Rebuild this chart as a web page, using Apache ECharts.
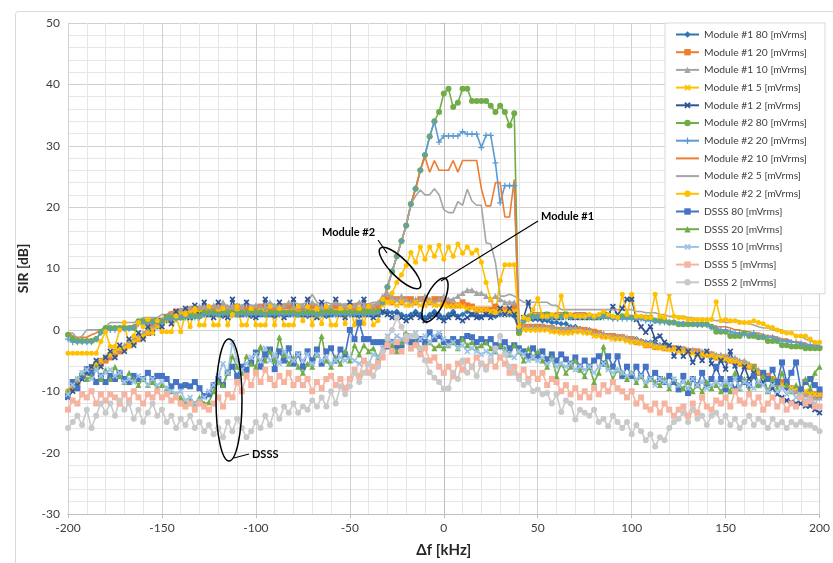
<!DOCTYPE html>
<html><head><meta charset="utf-8">
<script src="https://cdn.jsdelivr.net/npm/echarts@6/dist/echarts.min.js"></script>
<style>html,body{margin:0;padding:0;background:#fff}#chart{width:833px;height:563px}</style>
</head><body><div id="chart"></div>
<script>
// Frequency offset grid: -200 .. 200 kHz in 2.5 kHz steps (161 points)
const freqKHz = Array.from({length: 161}, (_, i) => -200 + 2.5 * i);

// SIR [dB] per series, one value per frequency point
const m1_80 = [
-10,-9.5,-8.5,-7.5,-6.5,-6,-5.5,-5,-4.5,-4,
-3.5,-3.5,-3,-2.5,-2,-1.5,-1,-0.5,0,0.5,
1,1.5,1.8,2,2.2,2.2,2.5,2.5,2.5,2.5,
2.5,2.8,2.5,2.2,2.5,2.5,2.8,2.5,2.5,2.2,
2.2,2.5,2.5,2.5,2.2,2.5,2.8,2.5,2.5,2.5,
2.5,2.2,2.5,2.5,2.5,2.2,2.5,2.5,2.8,2.5,
2.5,2.5,2.2,2.5,2.5,2.2,2.5,2.8,3,2.8,
3,2.5,2.2,2.5,3,2.5,2,2.5,3,2.5,
2,2.5,3,2.2,2.5,3,2.5,2.5,2.2,2.5,
2.5,2.2,2.5,2.8,2.5,2.2,0,1.5,1.7,1.7,
1.7,1.5,1.5,1.2,1.2,1,1,0.5,0.5,0.2,
0,0,-0.5,-0.5,-1,-1,-1,-1.2,-1.2,-1.5,
-1.5,-1.5,-1.8,-2,-2,-2.2,-2.5,-2.5,-2.8,-3,
-3,-3.2,-3.5,-3.5,-3.8,-4,-4,-4.5,-4.5,-4.8,
-5,-5,-5.2,-5.5,-5.8,-6,-6.5,-7,-7.5,-8,
-8.5,-8.5,-9,-9.5,-9.5,-10,-10,-10.5,-10.5,-11,
-11];
const m1_20 = [
-10.5,-9.5,-8.5,-7.5,-7,-6.5,-6,-5.5,-5,-4.5,
-4,-3.5,-3,-2.5,-2,-1.5,-1,-0.5,0.5,1,
1.5,2,2.5,3,3,3,3.3,3.3,3.3,3.3,
3.3,3.3,3.8,3.3,3.3,3.3,3.8,3.3,3.3,3.3,
3.3,3.8,3.3,3.3,3.3,3.3,3.8,3.8,3.3,3.3,
3.3,3.3,3.8,3.3,3.3,3.3,3.3,3.8,3.3,3.3,
3.3,3.8,3.3,3.3,3.8,3.3,3.8,4.5,5,4.5,
5,4.5,5,5,4.5,5,5,4.5,5,5,
4.5,4.5,4,4,4.5,4,3.8,3.3,3.3,3.3,
3.3,3.8,3.3,3.3,3.3,3.8,0,0.5,0.5,0.5,
0.5,0.5,0.3,0.3,0,0,0,0,0,0,
0,-0.3,-0.3,-0.5,-1,-1,-1,-1.2,-1.2,-1.5,
-1.5,-2,-2,-2.5,-2.5,-2.8,-2.8,-3,-3,-3,
-3.2,-3.2,-3.5,-3.5,-3.5,-4,-4,-4,-4.5,-4.5,
-4.5,-5,-5,-5.5,-5.5,-6,-6,-7,-7.5,-7.5,
-8,-8.5,-8.5,-9,-9.5,-10,-10,-10.5,-10.5,-10.5,
-10.5];
const m1_10 = [
-10,-9,-8,-7.5,-7,-6.5,-5.5,-5,-4.5,-4,
-3.5,-3,-2.5,-2,-1.5,-1,-0.5,0,0.5,1,
1.5,2,2.5,3,3.3,3.5,3.5,3.8,3.8,3.8,
3.8,4,3.8,4.5,3.8,3.8,4,3.8,4.5,3.8,
4,3.8,3.8,4.5,4,3.8,4,4.5,3.8,3.8,
4,3.8,4.5,4,3.8,4,3.8,4.5,4,4,
3.8,4,4.5,4,3.8,4,4.5,5.5,6,5.5,
5,5.5,5,4.5,5,5,5.5,5,4.5,5,
5.5,5,5,5.5,6,6.5,6.5,6,6,5.5,
5,5.5,5,4.5,4.5,4.5,0.5,0.5,0.5,0.5,
0.5,0.5,0.5,0.5,0.3,0.3,0.3,0.3,0.3,0,
0,0,-0.5,-0.5,-0.5,-1,-1,-1,-1,-1.2,
-1.5,-1.5,-2,-2,-2,-2.5,-2.5,-2.8,-2.8,-3,
-3,-3,-3.2,-3.2,-3.5,-3.5,-3.5,-3.8,-4,-4,
-4.2,-4.5,-4.5,-5,-5,-5.5,-6,-6.5,-7,-7.5,
-8,-8.5,-9,-9,-9.5,-10,-10,-10.5,-11,-11,
-11];
const m1_5 = [
-10,-9,-8,-7.5,-7,-6,-5.5,-5,-4.5,-4,
-3.5,-3,-3,-2.5,-2,-1.5,-1,-0.5,0,0.5,
1,1.5,2,2.5,2.5,2.8,2.8,2.8,2.8,2.8,
2.8,2.8,3,2.8,2.8,2.8,3,2.8,2.8,2.8,
2.8,3,2.8,2.8,2.8,3,2.8,2.8,3,2.8,
2.8,2.8,3,2.8,2.8,2.8,3,2.8,2.8,3,
2.8,2.8,3,2.8,3,2.8,3,4,4.5,4.5,
4,4.5,4,4,4.5,4,4,4.5,4,4,
4,3.8,3.8,4,3.8,3.5,3.5,3.3,3.3,3.3,
3,3,3.3,3,3,3,-0.5,0,0,0,
0,0,0,-0.3,-0.3,-0.5,-0.5,-0.5,-0.3,-0.3,
-0.5,-0.5,-1,-1,-1.2,-1.2,-1.5,-1.5,-1.5,-1.8,
-2,-2,-2.2,-2.5,-2.5,-2.8,-3,-3,-3.2,-3.2,
-3.5,-3.5,-3.5,-3.8,-4,-4,-4,-4.2,-4.5,-4.5,
-4.8,-5,-5.2,-5.5,-5.8,-6,-6.5,-7,-7.5,-8,
-8,-8.5,-9,-9,-9.5,-9.5,-10,-10,-10.5,-10.5,
-10.5];
const m1_2 = [
-11,-10,-9,-8,-7,-6,-5,-6,-4.5,-3.5,
-4.5,-2.5,-3.5,-1.5,-2.5,-0.5,-1.5,0.5,-0.5,1.5,
0.5,2,1,3,2,3.5,2,4,2.5,4.5,
2.5,2,4.5,2.5,2,5,2.5,2.5,4.5,2.5,
2,2.5,5,2.5,2.5,4.5,2,2.5,5,2.5,
2.5,5,2.5,2,4.5,2.5,2.5,5,2.5,2,
4.5,2.5,2.5,5,2.5,2,2.5,3,2.5,2,
2.5,2,1.5,2,2.5,2,1.5,2,2.5,2,
1.5,2,2.5,2,1.5,2,2.5,2,2,2.5,
2,2.5,3.5,2.5,3.5,2.5,0,2,4.5,2,
2,2,2.5,2,2,2,2.5,2,2,2,
2,2,2,2,2.2,2.5,3.8,2.5,3.5,5,
5,1.7,0.5,-0.4,0.5,-1.5,-1,-2,-2.5,-4.3,
-3,-4.3,-3.5,-5.3,-4,-5,-3.5,-5.5,-6.4,-5,
-6.4,-3.5,-5.9,-8,-6,-8,-7,-9,-8.5,-10,
-9.5,-10.5,-11,-11.5,-11.8,-12,-12,-12.4,-12.4,-13,
-13.5];
const m2_80 = [
-0.8,-1.5,-1.8,-1.8,-1.8,-1.8,-1.5,-0.3,0.3,0.3,
0.3,0.3,0.3,0.3,0.3,1.4,1.4,1.4,1.4,1.4,
1.4,2,2,2,2,2.2,2.2,2.2,2.2,2.8,
2.8,2.8,2.5,2.8,2.8,2.8,2.5,2.8,2.8,2.8,
2.8,2.8,2.5,2.8,2.8,3,2.8,2.8,2.8,2.5,
2.8,2.8,2.8,2.5,2.8,2.8,3,2.8,2.8,2.8,
2.8,2.8,3,3,3,2.8,3,4.5,7,9.5,
12,14.5,17,20.5,23,26,28.5,31.5,34,35.5,
38.5,39.3,36.3,37,39.3,39.3,37.3,37.3,37.3,37.3,
36.5,35.5,36.5,35.5,33.3,35.3,-0.5,1.5,2,2.2,
2.2,2.2,2.5,2.2,2.2,2.2,2.5,2.2,2.2,2.2,
2.2,2.2,2,2.2,2.2,2.2,2,2,2.2,2.2,
2,2,2,2,2,1.5,1.5,1.5,1.2,1.2,
0.9,0.9,0.9,0.9,0.9,0.9,0.9,0.5,-0.3,-0.3,
-0.3,-1,-1,-1,-0.5,-1,-1,-1.2,-1.2,-1.8,
-1.8,-1.8,-2.5,-2.5,-2.7,-2.7,-2.7,-3,-3,-3,
-3];
const m2_20 = [
-1.5,-2,-2,-2,-2,-2,-1.5,-0.5,0,0,
0,0.2,0.2,0.2,0.5,1,1,1.2,1.2,1.2,
1.2,1.7,1.7,1.7,2,2,2,2,2,2.5,
2.5,2.5,2.5,2.5,2.5,2.5,2.5,2.5,2.5,2.5,
2.5,2.5,2.5,2.5,2.5,2.5,2.5,2.5,2.5,2.5,
2.5,2.5,2.5,2.5,2.5,2.5,2.5,2.5,2.5,2.5,
2.5,2.5,2.5,2.5,2.5,2.5,2.8,4.5,7,9.5,
12,14.5,17,20.5,23,26,28.5,31.5,33.9,30.6,
31.6,31.6,31.6,31.6,32.3,31.9,31.9,31.9,29.7,31.7,
31.7,27.2,20.7,23.5,23.5,23.5,0,1.5,1.8,2,
2,2,2,2,2,2,2,2,2,2,
2,2,2,2,2,2,1.8,1.8,1.8,1.8,
1.8,1.8,1.8,1.5,1.5,1.5,1.2,1.2,1.2,1.2,
1,1,1,1,0.8,0.8,0.8,0.5,0.3,0,
0,-0.3,-0.5,-0.5,-0.8,-0.8,-0.5,-1,-1,-1.2,
-1.2,-1.5,-1.8,-1.8,-2,-2,-2.2,-2.5,-2.5,-2.5,
-2.7];
const m2_10 = [
-0.5,-1,-1.2,-1.2,-1.2,-0.8,-0.5,0,0.3,0.3,
0.3,0.5,0.5,0.5,0.8,1,1.4,1.4,1.7,1.7,
1.7,2,2.2,2.5,2.5,2.5,2.8,2.8,2.8,3,
3,3,3.3,3,3,3.3,3,3,3.3,3,
3,3.3,3,3,3.3,3.3,3,3,3.3,3,
3,3.3,3,3.3,3,3,3.3,3,3,3.3,
3,3.3,3,3.3,3,3.3,3.3,4.5,7,9.5,
12,14.5,17,20.5,23,26,28.2,25.7,27.6,26,
26,26,27.6,25.7,27.6,27.6,27.6,27.6,23,20.2,
20.2,24,24,18.4,18.4,24.5,0.5,2,2.5,2.8,
2.8,2.8,2.8,2.5,2.8,2.8,2.8,2.5,2.8,2.8,
2.8,2.5,2.5,2.5,2.5,2.2,2.2,2.2,2.2,2.2,
2,2,2,1.8,1.8,1.5,1.5,1.5,1.2,1.2,
1.2,1.2,1.2,1,1,1,0.8,0.8,0.5,0.5,
0.5,0.3,0,0,-0.3,-0.3,-0.5,-0.5,-0.8,-1,
-1,-1.2,-1.5,-1.5,-1.8,-2,-2,-2.2,-2.5,-2.5,
-2.5];
const m2_5 = [
-0.5,-0.5,-1.5,-1,0,0,0,0,0.5,1.2,
1.2,1.2,1.2,1.2,1.2,1.5,2,2,2,2,
2.5,2.5,3,3,3.3,3.3,3.8,3.8,3.8,3.8,
3.8,3.8,4,4,3.8,4,4,4,4.2,4,
4,4,4.2,4.2,4,4,4.2,4.2,4.5,4.2,
4.2,4.5,5.8,4.5,4.2,4.5,4.2,4.5,4.2,4.2,
4.2,4.2,4.5,4.2,4.2,4.5,4.5,4.5,7,9.5,
12,14.5,17,20.5,21.8,22.8,22,22,23,22,
19.6,19.1,19.1,20.9,20.3,22.9,21,20.3,20.3,14.2,
14,11,5.5,5.5,5.8,5.5,5,4.5,4.5,4.5,
4.5,4.5,4.5,4,4,3.3,3.3,3.3,3.3,3.3,
3.3,3.3,3.3,3.3,3.3,3.3,3.3,3.3,3.3,3.3,
3.3,3,3,2.8,2.8,2.8,2.5,2.5,2.2,2.2,
2.2,2.2,2,2,1.7,1.7,1.7,1.7,1.5,1.5,
1.2,1.2,1.5,1.5,1.2,1,0.8,0.5,0.3,0.3,
0,0,0,-0.5,-0.5,-1,-1,-1.5,-1.8,-2,
-2];
const m2_2 = [
-3.8,-3.8,-3.8,-3.8,-3.8,-3.8,-3.8,-1.9,-0.3,-2.7,
-2.7,0,1.2,-2.7,-1,1.2,0.5,1.7,-0.5,1.5,
-0.3,-0.3,-0.3,2.2,-0.3,2.5,0.5,3.5,0.8,0.8,
3.8,0.8,0.8,3.5,0.8,2.5,3.8,0.8,0.8,3.5,
0.8,0.8,0.8,3.8,0.8,3.5,0.8,0.8,0.8,3.8,
1.5,3.8,0.8,3.5,1,3.8,0.8,0.8,3.5,1,
3.8,0.8,3.5,1,3.8,0.8,1.5,5,4.5,6,
7.7,9,10.5,12.6,11,13.5,11.5,13.5,12,13.8,
11.5,13.5,12,14,12.5,13.5,12.5,13,11,7.7,
5,2.8,8,10.6,10.6,10.6,0.5,2,1.7,3.3,
5.1,2.2,2.2,2.5,2.2,5.5,2.2,2.5,2.2,2.2,
2.2,2.5,2.2,2.5,3,2.5,2.2,2,5.8,2.5,
5.8,2.2,2.2,2,2,5.8,2.2,2,5.8,2.2,
2,2,1.7,1.7,1.7,1.7,1.7,1.7,4.6,1.5,
1.7,1.5,1.5,1.2,1.2,1.2,1.5,1.2,1,0.5,
0.4,0,-0.3,-0.5,-0.5,-1,-1,-1,-1.5,-2,
-2];
const dsss_80 = [
-10.8,-8.5,-9.5,-7.5,-6.4,-7,-8.5,-7.5,-8.5,-7.5,
-8,-7,-8,-8.5,-7.5,-8,-8,-7,-8,-7.5,
-7.5,-8,-9.2,-8.5,-9.2,-9,-9.2,-8.5,-9.5,-10.8,
-10.5,-9,-8,-9,-7,-6,-7.5,-6,-6.5,-5.3,
-3.7,-6,-4,-3.2,-6.4,-3.5,-5,-3,-5.5,-4,
-6,-3.5,-5,-3.2,-5.5,-3.5,-3,-5,-3.2,-4,
0,-1.5,1.2,-1.5,-1.5,-2,-2,-2,-2.7,-2,
-2.7,-2.5,-1,-2,-2,-1.5,-2,-0.4,-1.5,-1,
-2,-2,-1.5,-2,-1.5,-1,-1.2,-2,-1.5,-2,
-1.5,-2.5,-2.7,-2,-3,-2.5,-3,-3.5,-4.3,-3,
-4.3,-3.5,-4.8,-4,-5,-4,-4.8,-5.5,-4.5,-6,
-5,-6,-5,-4.3,-5.5,-4.3,-6,-4.3,-7.5,-6,
-7.5,-6,-7.5,-6,-8,-7,-8,-8.5,-7.5,-8.5,
-9.7,-7.5,-10.3,-8,-9,-7,-9,-8,-6,-8,
-9.7,-8,-9.7,-8,-8.5,-9,-7.5,-9,-7,-8,
-6.5,-8.5,-5.3,-8.5,-7,-5.3,-9.7,-8.5,-8,-9,
-9.7];
const dsss_20 = [
-10,-9,-8,-7,-8,-7.5,-6,-8,-6.5,-8,
-6,-7.5,-8.5,-7,-8,-9,-8,-9,-8.5,-9.5,
-9,-9.5,-10,-10.5,-11,-12,-11.5,-12,-11,-12,
-11.8,-10,-8.5,-9,-7,-4.3,-6,-7,-4.3,-5.5,
-6,-2.7,-5,-3.5,-5,-1.2,-4,-5.5,-4.5,-6,
-7,-5.5,-6,-4,-1,-5,-6,-4.5,-5.5,-3.5,
-5,-2.5,-4,-2.5,-3.5,-3,-4.5,-3,-2,-2.5,
-3.5,-2,-0.5,-3,-2,-3.5,-2.5,-2,-3,-2.5,
-3,-2.5,-2,-3,-1.5,-2.5,-2,-3,-2.5,-2,
-3,-3.5,-2.5,-3,-4,-2.5,-3.5,-5,-3,-4.5,
-3.5,-5,-6,-4.5,-7.5,-5.5,-7,-6,-5,-6.5,
-7.5,-6,-8.5,-7,-2.7,-6,-8,-6.5,-7,-8,
-7,-8.5,-7.5,-9,-8,-8.5,-9,-8,-9.5,-8,
-9,-9.5,-8.5,-10,-9,-10,-8.5,-9.5,-9,-10,
-9,-10,-7,-9.5,-8,-10,-6,-9,-7.5,-10,
-8,-9.5,-7,-9,-10,-9,-10.5,-8,-9.5,-7,
-6];
const dsss_10 = [
-10.5,-9,-8,-7,-6.5,-8,-6.5,-7.5,-7,-6.5,
-7.5,-7,-8.5,-8,-8.5,-7.5,-8,-9,-8,-9,
-8.5,-9.5,-10,-10.5,-10,-11.5,-11,-12,-11.5,-11,
-10,-9,-7.5,-5.5,-7,-2,-5,-6.5,-5.5,-4.5,
-4,-5,-3,-5,-4,-5.5,-3.5,-4.5,-5,-4,
-5,-4,-5.5,-4,-5,-4.5,-5.5,-5,-4.5,-5,
-4.5,-5,-5.5,-5,-5.5,-4,-4.5,-3,-1,-2,
-1,-1.5,-2,-1,-0.5,-1.5,-1,-2,-1,-0.5,
-1.5,-2.5,-2,-3,-2.5,-3.5,-3,-3.5,-4,-3.5,
-4,-3.5,-4.5,-3.5,-4,-4.5,-3.5,-4,-5,-4.5,
-5,-4.5,-5.5,-5,-6,-5.5,-6,-5.5,-6.5,-6,
-6.5,-6,-7,-6,-5.5,-6.5,-7,-6.5,-7,-7.5,
-7,-8,-7.5,-8.5,-8,-9,-8,-8.5,-9,-8,
-9,-8.5,-9.5,-8,-9,-8.5,-9.5,-9,-8.5,-9,
-8.5,-9,-8,-9.5,-8.5,-9,-9.5,-8.5,-9,-10,
-9,-10,-9.5,-10.5,-10,-11,-10.5,-11.5,-11,-12,
-12.5];
const dsss_5 = [
-13,-11.5,-12,-10.5,-11,-10,-12,-10.5,-11.5,-10.5,
-11,-12,-10.5,-11.5,-10,-11,-12,-10.5,-11,-10,
-11,-10.5,-11.5,-11,-12,-12.5,-12,-13,-12,-12.5,
-13,-12,-11,-12.5,-10.5,-11,-8.5,-10,-7.5,-9,
-7,-8.5,-6.5,-8,-9,-7.5,-8.5,-7,-9,-8,
-9,-8,-10,-8.5,-9.5,-8,-7.5,-9,-8,-9.5,
-8,-6.5,-7.5,-5,-7,-6,-5.5,-4.5,-2.5,-3.5,
-2,-3.5,-1.5,-3,-2.5,-4,-3,-5,-4.5,-6,
-7,-6,-7.5,-5.5,-6.5,-5,-6,-4.5,-5.5,-6,
-5,-6,-4.5,-5.5,-7,-6,-7.5,-6.5,-8,-7,
-8,-7,-9,-8,-8.5,-10,-9,-10.5,-9.5,-11,
-10,-11,-9.5,-10.5,-9,-10,-8.5,-9.5,-10,-11,
-10,-12,-11,-12.5,-13,-12,-13.5,-12,-13,-14,
-13,-12.5,-14,-12,-13.5,-11,-12.5,-13,-11.5,-12,
-11,-12.5,-10,-11.5,-12,-10.5,-12,-11,-13,-12,
-11,-12.5,-11.5,-13,-12,-12.5,-11,-12,-11.5,-12.5,
-12.5];
const dsss_2 = [
-16,-15,-14,-15.5,-13,-16,-14,-12,-13.5,-12,
-14,-11.5,-13,-12,-14.5,-13,-15,-13.5,-12,-14,
-13,-15,-14,-16,-14.5,-15.5,-14,-16,-15,-16.5,
-15.5,-17,-16,-17.5,-15,-16.5,-14.5,-16,-17.5,-16.5,
-15,-16,-14,-15.5,-13,-14.5,-12.5,-13.5,-12,-13.5,
-12.5,-13,-11.5,-12.5,-11,-12.5,-10,-12,-9.2,-10.5,
-9.2,-7,-8.5,-7,-5.6,-7.5,-6,-3.5,-1.5,0,
2,0.5,-1,-1,-1,-3,-5,-6.9,-7.8,-8.5,
-9.6,-9.5,-7,-8,-5,-7,-6,-7.5,-5.5,-6.5,
-5,-3,-1,-4,-6,-7,-8,-9,-8.5,-10,
-9.7,-10.5,-10.3,-12,-10.5,-13.4,-11.5,-12,-14.6,-13,
-13.5,-14,-13,-15,-14.5,-15.7,-14,-15,-16,-15,
-17,-15.5,-16.5,-18,-17,-19,-17.5,-18,-16,-15,
-14.5,-13.5,-15,-13,-14.5,-14,-15.5,-14,-13.5,-15,
-14,-15.5,-14.5,-16,-15,-14,-15.5,-14.5,-15,-16,
-14.5,-15.5,-15,-16,-15,-15.5,-15,-15.5,-15.5,-16,
-16.5];

const seriesNames = [
  'Module #1 80 [mVrms]', 'Module #1 20 [mVrms]', 'Module #1 10 [mVrms]', 'Module #1 5 [mVrms]', 'Module #1 2 [mVrms]',
  'Module #2 80 [mVrms]', 'Module #2 20 [mVrms]', 'Module #2 10 [mVrms]', 'Module #2 5 [mVrms]', 'Module #2 2 [mVrms]',
  'DSSS 80 [mVrms]', 'DSSS 20 [mVrms]', 'DSSS 10 [mVrms]', 'DSSS 5 [mVrms]', 'DSSS 2 [mVrms]'
];
const seriesValues = [m1_80, m1_20, m1_10, m1_5, m1_2, m2_80, m2_20, m2_10, m2_5, m2_2,
                      dsss_80, dsss_20, dsss_10, dsss_5, dsss_2];

seriesValues.forEach((v, k) => {
  if (v.length !== freqKHz.length) throw new Error(seriesNames[k] + ' has ' + v.length + ' points');
});

// marker shapes
const X_MARK = 'path://M2,0L5,3L8,0L10,2L7,5L10,8L8,10L5,7L2,10L0,8L3,5L0,2Z';
const PLUS_MARK = 'path://M4,0H6V4H10V6H6V10H4V6H0V4H4Z';
const DASH_MARK = 'path://M0,4H10V6.5H0Z';

const styles = [
  {color: '#2E75B6', symbol: 'diamond', size: 6},
  {color: '#ED7D31', symbol: 'rect', size: 6},
  {color: '#A5A5A5', symbol: 'triangle', size: 6},
  {color: '#FFC000', symbol: X_MARK, size: 6},
  {color: '#2F5597', symbol: X_MARK, size: 6},
  {color: '#70AD47', symbol: 'circle', size: 6},
  {color: '#5B9BD5', symbol: PLUS_MARK, size: 6},
  {color: '#ED7D31', symbol: 'none', size: 0},
  {color: '#A5A5A5', symbol: 'none', size: 0},
  {color: '#FFC000', symbol: 'circle', size: 5},
  {color: '#4472C4', symbol: 'rect', size: 6},
  {color: '#70AD47', symbol: 'triangle', size: 6},
  {color: '#9DC3E6', symbol: X_MARK, size: 6},
  {color: '#F6B4A0', symbol: DASH_MARK, size: 6},
  {color: '#C9C9C9', symbol: 'circle', size: 6}
];

const series = seriesValues.map((vals, k) => ({
  name: seriesNames[k],
  type: 'line',
  data: freqKHz.map((f, i) => [f, vals[i]]),
  symbol: styles[k].symbol,
  symbolSize: styles[k].size,
  showSymbol: styles[k].symbol !== 'none',
  lineStyle: {color: styles[k].color, width: 1.6},
  itemStyle: {color: styles[k].color},
  emphasis: {disabled: true},
  animation: false
}));

// legend entries: plain-line series get no marker in their key
const legendData = seriesNames.map((name, k) =>
  styles[k].symbol === 'none' ? {name: name, itemStyle: {opacity: 0}} : {name: name});

const FONT = 'Lato, "Liberation Sans", sans-serif';
const chart = echarts.init(document.getElementById('chart'), null, {renderer: 'canvas'});
chart.setOption({
  animation: false,
  backgroundColor: '#ffffff',
  textStyle: {fontFamily: FONT},
  grid: {left: 68, right: 11, top: 23, bottom: 48},
  xAxis: {
    type: 'value', min: -200, max: 200, interval: 50,
    name: 'Δf [kHz]', nameLocation: 'middle', nameGap: 29,
    nameTextStyle: {fontFamily: FONT, fontSize: 15, fontWeight: 'bold', color: '#262626'},
    axisLine: {show: true, onZero: false, lineStyle: {color: '#bfbfbf'}},
    axisTick: {show: true, length: 4, lineStyle: {color: '#bfbfbf'}},
    axisLabel: {fontFamily: FONT, fontSize: 12, color: '#404040', margin: 8},
    splitLine: {show: true, lineStyle: {color: '#d0d0d0', width: 1}},
    minorTick: {show: false, splitNumber: 5},
    minorSplitLine: {show: true, lineStyle: {color: '#e6e6e6', width: 1}}
  },
  yAxis: {
    type: 'value', min: -30, max: 50, interval: 10,
    name: 'SIR [dB]', nameLocation: 'middle', nameGap: 35,
    nameTextStyle: {fontFamily: FONT, fontSize: 14, fontWeight: 'bold', color: '#262626'},
    axisLine: {show: true, lineStyle: {color: '#bfbfbf'}},
    axisTick: {show: true, length: 4, lineStyle: {color: '#bfbfbf'}},
    axisLabel: {fontFamily: FONT, fontSize: 12, color: '#404040', margin: 8},
    splitLine: {show: true, lineStyle: {color: '#d0d0d0', width: 1}},
    minorTick: {show: false, splitNumber: 5},
    minorSplitLine: {show: true, lineStyle: {color: '#e6e6e6', width: 1}}
  },
  legend: {
    orient: 'vertical', left: 665, top: 23,
    padding: [5, 18, 5, 10],
    itemWidth: 23, itemHeight: 8, itemGap: 4.7,
    backgroundColor: '#ffffff', borderColor: '#d9d9d9', borderWidth: 1,
    textStyle: {fontFamily: FONT, fontSize: 10.3, color: '#404040', lineHeight: 13},
    selectedMode: false,
    data: legendData
  },
  graphic: [
    {type: 'rect', silent: true, z: -10,
     shape: {x: 15.5, y: 11.5, width: 900, height: 700, r: 3},
     style: {fill: 'none', stroke: '#d9d9d9', lineWidth: 1}},
    // Module #2 group marker
    {type: 'ellipse', x: 400, y: 268, rotation: -Math.PI / 4, silent: true, z: 100,
     shape: {cx: 0, cy: 0, rx: 28, ry: 9},
     style: {fill: 'none', stroke: '#000', lineWidth: 1.5}},
    {type: 'line', silent: true, z: 100, shape: {x1: 378, y1: 240, x2: 387, y2: 253},
     style: {stroke: '#000', lineWidth: 1.2}},
    {type: 'text', x: 322, y: 227, silent: true, z: 100,
     style: {text: 'Module #2', font: 'bold 11px ' + FONT, fill: '#000'}},
    // Module #1 group marker
    {type: 'ellipse', x: 435, y: 300, rotation: 1.13, silent: true, z: 100,
     shape: {cx: 0, cy: 0, rx: 24, ry: 9},
     style: {fill: 'none', stroke: '#000', lineWidth: 1.5}},
    {type: 'line', silent: true, z: 100, shape: {x1: 441, y1: 281, x2: 538, y2: 221},
     style: {stroke: '#000', lineWidth: 1.2}},
    {type: 'text', x: 541, y: 211, silent: true, z: 100,
     style: {text: 'Module #1', font: 'bold 11px ' + FONT, fill: '#000'}},
    // DSSS group marker
    {type: 'ellipse', x: 229, y: 400, silent: true, z: 100,
     shape: {cx: 0, cy: 0, rx: 13, ry: 61},
     style: {fill: 'none', stroke: '#000', lineWidth: 1.5}},
    {type: 'line', silent: true, z: 100, shape: {x1: 234, y1: 458, x2: 249, y2: 454},
     style: {stroke: '#000', lineWidth: 1.2}},
    {type: 'text', x: 252, y: 449, silent: true, z: 100,
     style: {text: 'DSSS', font: 'bold 11px ' + FONT, fill: '#000'}}
  ],
  series: series
});
</script></body></html>
